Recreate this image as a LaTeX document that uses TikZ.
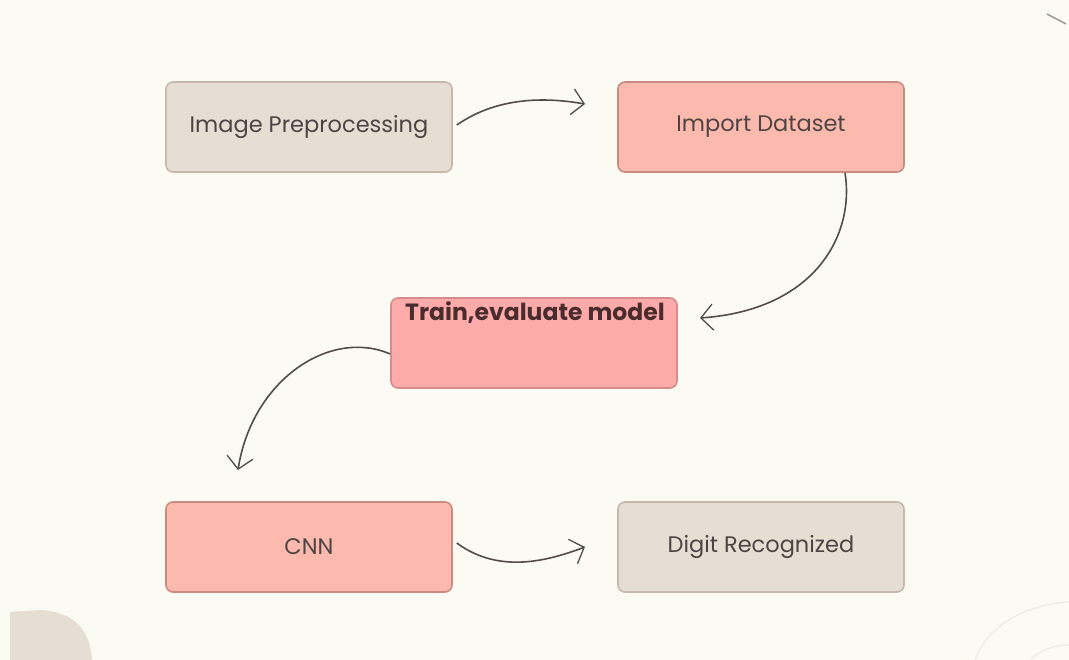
\documentclass[tikz,border=0pt]{standalone}
\usepackage{fontspec}
\setmainfont{Poppins}
\usetikzlibrary{arrows.meta}
\definecolor{bg}{HTML}{FBFBF3}
\definecolor{beigeF}{HTML}{E6DDD3}
\definecolor{beigeD}{HTML}{C7B8AB}
\definecolor{salmonF}{HTML}{FBBAAD}
\definecolor{salmonD}{HTML}{C98B80}
\definecolor{pinkF}{HTML}{FDAAAA}
\definecolor{pinkD}{HTML}{D68C8C}
\definecolor{txt}{HTML}{4E4444}
\definecolor{ttl}{HTML}{4A2C2C}
\definecolor{arr}{HTML}{554B4B}
\tikzset{
  box/.style={rectangle, rounded corners=7pt, line width=1.6pt, minimum width=286pt, minimum height=90pt, inner sep=0pt, font=\fontsize{22.5}{26}\selectfont, text=txt},
  beigebox/.style={box, fill=beigeF, draw=beigeD},
  salmonbox/.style={box, fill=salmonF, draw=salmonD},
  pinkbox/.style={box, fill=pinkF, draw=pinkD},
  flow/.style={draw=arr, line width=1.6pt, -{Straight Barb[length=12pt,width=26pt,line width=1.3pt]}},
}
\begin{document}
\begin{tikzpicture}[x=1pt,y=-1pt]
\useasboundingbox (0,0) rectangle (1069,660);
\fill[bg] (0,0) rectangle (1069,660);
% decorations
\fill[beigeF] (10,660) -- (10,612) -- (40,610) .. controls (75,612) and (90,630) .. (92,660) -- cycle;
\draw[black!8, line width=1.2pt] (975,660) .. controls (985,630) and (1020,605) .. (1069,602);
\draw[black!8, line width=1.2pt] (1030,660) .. controls (1040,650) and (1055,645) .. (1069,645);
\draw[black!40, line width=1.5pt] (1047,14) -- (1066,24);
% nodes
\node[beigebox] (ip) at (309,127) {Image Preprocessing};
\node[salmonbox] (id) at (761,127) {Import Dataset};
\node[pinkbox] (tr) at (534,343) {};
\node[font=\fontsize{23.5}{27}\selectfont\bfseries, text=ttl] (trl) at (535,313) {Train,evaluate model};
\node[salmonbox] (cnn) at (309,547) {CNN};
\node[beigebox] (dr) at (761,547) {Digit Recognized};
% connectors
\coordinate (a1) at (585,104);
\coordinate (a2) at (700,318);
\coordinate (a3) at (238,470);
\coordinate (a4) at (585,547);
\draw[flow] ([xshift=4pt,yshift=2pt]ip.east) .. controls (500,95) and (550,98) .. (a1);
\draw[flow] ([xshift=84pt]id.south) .. controls (855,235) and (815,310) .. (a2);
\draw[flow] ([yshift=-11pt]tr.west) .. controls (330,328) and (252,380) .. (a3);
\draw[flow] ([xshift=4pt,yshift=4pt]cnn.east) .. controls (500,575) and (550,560) .. (a4);
\end{tikzpicture}
\end{document}
